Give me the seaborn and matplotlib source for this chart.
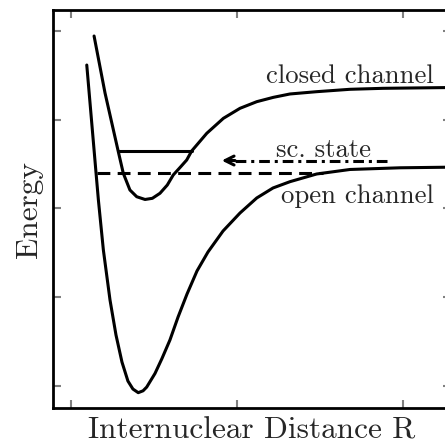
import numpy as np
import pandas as pd
import matplotlib
matplotlib.use("Agg")
import matplotlib.pyplot as plt
import seaborn as sns

# ---- data ----
closed_R = [0.139, 0.205, 0.285, 0.315, 0.355, 0.396, 0.446, 0.490, 0.536, 0.580,
            0.616, 0.660, 0.697, 0.727, 0.818, 0.918, 1.018, 1.119, 1.219, 1.319,
            1.480, 1.681, 1.880, 2.289]
closed_E = [0.949, 0.305, -0.358, -0.602, -0.791, -0.867, -0.898, -0.885, -0.828, -0.735,
            -0.621, -0.530, -0.452, -0.350, -0.150, 0.019, 0.132, 0.207, 0.256, 0.294,
            0.320, 0.347, 0.358, 0.367]

open_R = [0.095, 0.151, 0.165, 0.195, 0.235, 0.271, 0.307, 0.343, 0.373, 0.405,
          0.434, 0.456, 0.506, 0.548, 0.596, 0.645, 0.699, 0.759, 0.825, 0.916,
          1.018, 1.119, 1.217, 1.319, 1.480, 1.681, 1.982, 2.289]
open_E = [0.621, -0.602, -0.904, -1.469, -2.034, -2.429, -2.735, -2.950, -3.040, -3.081,
          -3.060, -3.018, -2.864, -2.695, -2.486, -2.226, -1.966, -1.706, -1.492, -1.254,
          -1.051, -0.881, -0.768, -0.697, -0.610, -0.559, -0.540, -0.533]

bound_level = -0.354          # closed-channel bound state
bound_R = [0.285, 0.727]
threshold = -0.602            # open-channel threshold (dashed)
threshold_R = [0.155, 1.518]
sc_level = -0.458             # sc. state arrow
sc_R = [1.902, 0.908]

x_ticks = [0, 1, 2]
y_ticks = [1, 0, -1, -2, -3]

labels = {"closed": "closed channel", "open": "open channel", "sc": "sc. state",
          "x": "Internuclear Distance R", "y": "Energy"}

# ---- style ----
sns.set_style("white")
plt.rcParams["font.family"] = ["cmr10", "DejaVu Serif"]
plt.rcParams["axes.unicode_minus"] = False

fig = plt.figure(figsize=(4.45, 4.46), dpi=100)
ax = fig.add_axes([53 / 445, (446 - 408) / 446, 398 / 445, 398 / 446])

df_c = pd.DataFrame({"R": closed_R, "E": closed_E})
df_o = pd.DataFrame({"R": open_R, "E": open_E})
lw = 2.2
sns.lineplot(data=df_c, x="R", y="E", sort=False, color="black", lw=lw, ax=ax)
sns.lineplot(data=df_o, x="R", y="E", sort=False, color="black", lw=lw, ax=ax)

ax.plot(bound_R, [bound_level, bound_level], color="black", lw=lw)
ax.plot(threshold_R, [threshold, threshold], color="black", lw=lw,
        linestyle=(0, (4.2, 2.4)))
ax.plot([sc_R[0], sc_R[1] + 0.03], [sc_level, sc_level], color="black", lw=lw,
        linestyle=(0, (3.5, 1.6, 1.0, 1.6)))
ax.annotate("", xy=(sc_R[1], sc_level), xytext=(sc_R[1] + 0.08, sc_level),
            arrowprops=dict(arrowstyle="->", lw=lw, color="black",
                            mutation_scale=16, shrinkA=0, shrinkB=0))

ax.text(2.187, 0.415, labels["closed"], ha="right", va="baseline", fontsize=19.2)
ax.text(2.183, -0.941, labels["open"], ha="right", va="baseline", fontsize=19.2)
ax.text(1.524, -0.415, labels["sc"], ha="center", va="baseline", fontsize=19.2)

ax.set_xlim(-18 / 166, 380 / 166)
ax.set_ylim((120 - 408) / 88.5, (120 - 10) / 88.5)
ax.set_xticks(x_ticks)
ax.set_yticks(y_ticks)
ax.set_xticklabels([])
ax.set_yticklabels([])
ax.tick_params(direction="in", length=5.8, width=1.5, color="#808080",
               top=True, right=True, bottom=True, left=True)
for s in ax.spines.values():
    s.set_linewidth(2.0)
    s.set_color("black")
ax.set_xlabel(labels["x"], fontsize=22.5, labelpad=3)
ax.set_ylabel(labels["y"], fontsize=22.5, labelpad=4)

fig.savefig("out.png", dpi=100)
